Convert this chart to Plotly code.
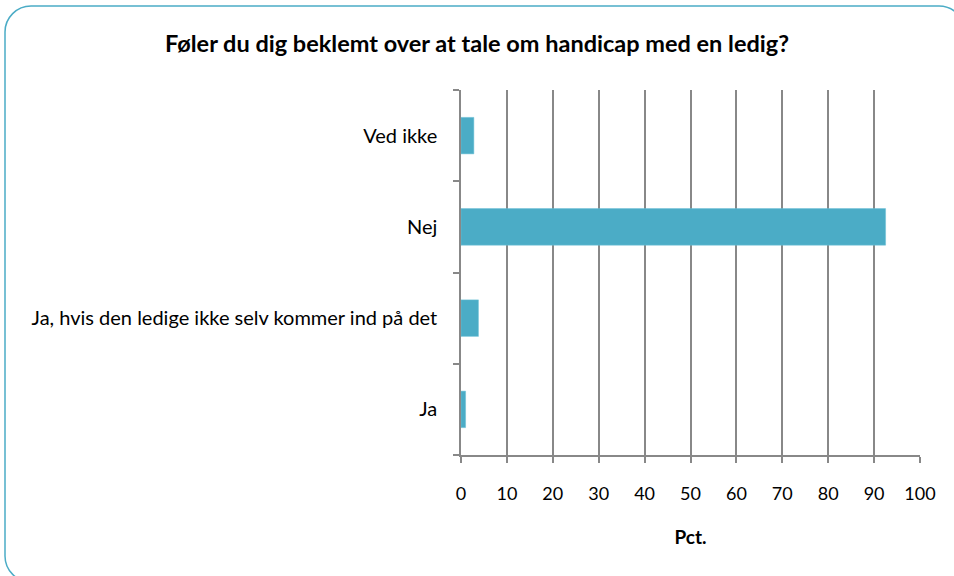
import plotly.graph_objects as go

categories = ["Ja", "Ja, hvis den ledige ikke selv kommer ind på det", "Nej", "Ved ikke"]
values = [1.0, 3.8, 92.5, 2.8]
x_ticks = [0, 10, 20, 30, 40, 50, 60, 70, 80, 90, 100]

title = "Føler du dig beklemt over at tale om handicap med en ledig?"
x_title = "Pct."

FONT = "Lato, Open Sans, sans-serif"
W, H = 954, 576
L, R, T, B = 461, 34, 90, 121
pw, ph = W - L - R, H - T - B

def px(x):
    return (x - L) / pw

def py(y):
    return 1 - (y - T) / ph

fig = go.Figure(go.Bar(
    y=categories, x=values, orientation="h",
    marker=dict(color="#4BACC6", line=dict(color="#6DC0D6", width=0.5)),
    width=0.4,
))

# rounded border
x0, y0, x1, y1, r = 5, 6, 965, 582, 26
k = 0.45
path = (
    f"M {px(x0)},{py(y0 + r)} "
    f"C {px(x0)},{py(y0 + r*k)} {px(x0 + r*k)},{py(y0)} {px(x0 + r)},{py(y0)} "
    f"L {px(x1 - r)},{py(y0)} "
    f"C {px(x1 - r*k)},{py(y0)} {px(x1)},{py(y0 + r*k)} {px(x1)},{py(y0 + r)} "
    f"L {px(x1)},{py(y1 - r)} "
    f"C {px(x1)},{py(y1 - r*k)} {px(x1 - r*k)},{py(y1)} {px(x1 - r)},{py(y1)} "
    f"L {px(x0 + r)},{py(y1)} "
    f"C {px(x0 + r*k)},{py(y1)} {px(x0)},{py(y1 - r*k)} {px(x0)},{py(y1 - r)} Z"
)

fig.update_layout(
    width=W, height=H,
    margin=dict(l=L, r=R, t=T, b=B),
    paper_bgcolor="white", plot_bgcolor="white",
    showlegend=False,
    font=dict(family=FONT, size=18, color="#000000"),
    title=dict(text=f"<b>{title}</b>", x=px(477), xref="paper", xanchor="center",
               y=1 - 44 / H, yanchor="middle",
               font=dict(size=23.5, family=FONT, color="#000000")),
    shapes=[dict(type="path", xref="paper", yref="paper", path=path,
                 line=dict(color="#4BACC6", width=1.5), layer="below")],
    bargap=0.6,
)

fig.update_xaxes(
    range=[0, 100], tickvals=x_ticks, ticktext=[str(v) for v in x_ticks],
    showgrid=True, gridcolor="#888888", gridwidth=1.5,
    showline=True, linecolor="#888888", linewidth=1.5,
    ticks="outside", ticklen=6, tickcolor="#888888", tickwidth=1.5,
    ticklabelstandoff=16, zeroline=False,
    tickfont=dict(size=18),
    title=dict(text=f"<b>{x_title}</b>", standoff=27, font=dict(size=19)),
)
fig.update_yaxes(
    categoryorder="array", categoryarray=categories,
    showline=True, linecolor="#888888", linewidth=1.5,
    ticks="outside", ticklen=6, tickcolor="#888888", tickwidth=1.5,
    tickson="boundaries", ticklabelstandoff=18,
    showgrid=False, tickfont=dict(size=20),
)

fig.write_html("out.html", config={"displayModeBar": False},
               post_script="document.body.style.margin='0';document.body.style.overflow='hidden';")
